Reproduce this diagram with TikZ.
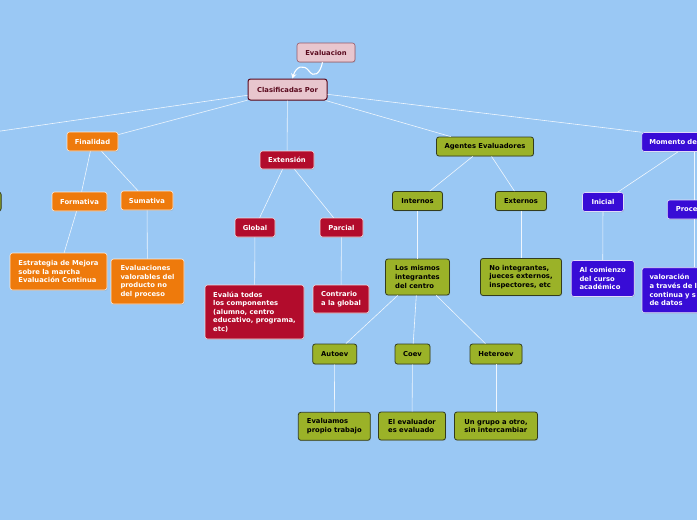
\documentclass[tikz,border=0pt]{standalone}
\usepackage{fontspec}
\setmainfont{DejaVu Sans}
\usetikzlibrary{arrows.meta,shadows}
\definecolor{bgblue}{RGB}{154,200,244}
\definecolor{orng}{RGB}{238,122,12}
\definecolor{redc}{RGB}{178,12,44}
\definecolor{olv}{RGB}{155,178,40}
\definecolor{olvdark}{RGB}{50,60,30}
\definecolor{blu}{RGB}{56,12,214}
\definecolor{pinkf}{RGB}{232,198,206}
\definecolor{pinkd}{RGB}{150,90,105}
\definecolor{maroon}{RGB}{90,10,30}
\begin{document}
\begin{tikzpicture}[x=1pt, y=-1pt,
	box/.style={rounded corners=2.5pt, font=\fontsize{6.8}{8.6}\selectfont\bfseries,
		inner xsep=5pt, inner ysep=2pt, align=left,
		drop shadow={opacity=0.25, shadow xshift=0.6pt, shadow yshift=-0.9pt}},
	orangebox/.style={box, fill=orng, draw=white!85!orng, line width=0.6pt, text=white},
	redbox/.style={box, fill=redc, draw=white!85!redc, line width=0.6pt, text=white},
	olivebox/.style={box, fill=olv, draw=olvdark, line width=0.8pt, text=black},
	bluebox/.style={box, fill=blu, draw=white!85!blu, line width=0.6pt, text=white},
	pinkbox/.style={box, fill=pinkf, draw=pinkd, line width=0.6pt, text=maroon},
	link/.style={draw=white, line width=0.6pt, opacity=0.85}]

	\fill[bgblue, use as bounding box] (0,0) rectangle (697,520);
	\clip (0,0) rectangle (697,520);

	% top
	\node[pinkbox, minimum width=58pt, minimum height=19pt] (ev) at (326,52.5) {Evaluacion};
	\node[pinkbox, draw=maroon, line width=1pt, minimum width=79pt, minimum height=21pt] (clas) at (287.5,89.5) {Clasificadas Por};
	\coordinate (leftend) at (-20,134);

	% finalidad
	\node[orangebox, minimum width=51pt, minimum height=19pt] (fin) at (92.5,141.5) {Finalidad};
	\node[orangebox, minimum width=55pt, minimum height=19pt] (form) at (79.5,201.5) {Formativa};
	\node[orangebox, minimum width=52pt, minimum height=19pt] (sum) at (147,200.5) {Sumativa};
	\node[orangebox, minimum width=97pt, minimum height=37pt] (estr) at (58.5,271.5) {Estrategia de Mejora\\sobre la marcha\\Evaluación Continua};
	\node[orangebox, minimum width=73pt, minimum height=45pt] (evals) at (147.5,281.5) {Evaluaciones\\valorables del\\producto no\\del proceso};
	\node[olivebox, minimum width=60pt, minimum height=19pt, anchor=east] (lpart) at (1.5,201.5) {};

	% extension
	\node[redbox, minimum width=54pt, minimum height=18pt] (ext) at (287,160) {Extensión};
	\node[redbox, minimum width=40pt, minimum height=19pt] (glob) at (255,227.5) {Global};
	\node[redbox, minimum width=43pt, minimum height=19pt] (parc) at (341.5,227.5) {Parcial};
	\node[redbox, minimum width=99pt, minimum height=54pt] (todos) at (254.5,312) {Evalúa todos\\los componentes\\(alumno, centro\\educativo, programa,\\etc)};
	\node[redbox, minimum width=56pt, minimum height=28pt] (contr) at (341,299) {Contrario\\a la global};

	% agentes
	\node[olivebox, minimum width=97pt, minimum height=19pt] (ag) at (485,146.5) {Agentes Evaluadores};
	\node[olivebox, minimum width=50pt, minimum height=19pt] (inte) at (417.5,201) {Internos};
	\node[olivebox, minimum width=51pt, minimum height=19pt] (exte) at (521,201) {Externos};
	\node[olivebox, minimum width=64pt, minimum height=36pt] (mism) at (417.5,277) {Los mismos\\integrantes\\del centro};
	\node[olivebox, minimum width=81pt, minimum height=37pt] (noint) at (521,277) {No integrantes,\\jueces externos,\\inspectores, etc};
	\node[olivebox, minimum width=44pt, minimum height=20pt] (auto) at (334.7,354) {Autoev};
	\node[olivebox, minimum width=35pt, minimum height=20pt] (coev) at (412.5,354) {Coev};
	\node[olivebox, minimum width=52pt, minimum height=20pt] (hetero) at (496,354) {Heteroev};
	\node[olivebox, minimum width=72pt, minimum height=28pt] (evalu) at (334.3,426.3) {Evaluamos\\propio trabajo};
	\node[olivebox, minimum width=67pt, minimum height=28pt] (evaldor) at (412,426) {El evaluador\\es evaluado};
	\node[olivebox, minimum width=83pt, minimum height=28pt] (grupo) at (496,426) {Un grupo a otro,\\sin intercambiar};

	% momento
	\node[bluebox, anchor=west, text width=78pt, inner xsep=7.5pt, minimum height=19pt] (mom) at (641.5,142) {Momento de};
	\node[bluebox, minimum width=41pt, minimum height=19pt] (ini) at (603,202) {Inicial};
	\node[bluebox, anchor=west, text width=50pt, inner xsep=8.5pt, minimum height=19pt] (proc) at (667,209.5) {Proce};
	\node[bluebox, minimum width=63pt, minimum height=36pt] (alcom) at (602.7,278.5) {Al comienzo\\del curso\\académico};
	\node[bluebox, anchor=west, text width=70pt, inner xsep=7.5pt, minimum height=45pt] (val) at (641.7,290.2) {valoración\\a través de l\\continua y s\\de datos};

	% connectors
	\draw[link] (clas) -- (leftend);
	\draw[link] (clas) -- (fin);
	\draw[link] (clas) -- (ext);
	\draw[link] (clas) -- (ag);
	\draw[link] (clas) -- (mom.north west);
	\draw[link] (fin) -- (form);
	\draw[link] (fin) -- (sum);
	\draw[link] (form) -- (estr);
	\draw[link] (sum) -- (evals);
	\draw[link] (ext) -- (glob);
	\draw[link] (ext) -- (parc);
	\draw[link] (glob) -- (todos);
	\draw[link] (parc) -- (contr);
	\draw[link] (ag) -- (inte);
	\draw[link] (ag) -- (exte);
	\draw[link] (inte) -- (mism);
	\draw[link] (exte) -- (noint);
	\draw[link] (mism) -- (auto);
	\draw[link] (mism) -- (coev);
	\draw[link] (mism) -- (hetero);
	\draw[link] (auto) -- (evalu);
	\draw[link] (coev) -- (evaldor);
	\draw[link] (hetero) -- (grupo);
	\draw[link] ([xshift=36.5pt]mom.south west) -- (ini);
	\draw[link] ([xshift=52.5pt]mom.south west) -- ([xshift=27pt]proc.north west);
	\draw[link] ([xshift=27pt]proc.south west) -- ([xshift=52.3pt]val.north west);
	\draw[link] (ini) -- (alcom);

	% wavy arrow
	\draw[white, line width=1.1pt, -{Stealth[length=5pt, width=5.5pt]}]
		([xshift=-3.5pt]ev.south) .. controls (320,74) and (314,78) .. (309,71)
		.. controls (304,64) and (296,66) .. ([xshift=5pt]clas.north);

\end{tikzpicture}
\end{document}
